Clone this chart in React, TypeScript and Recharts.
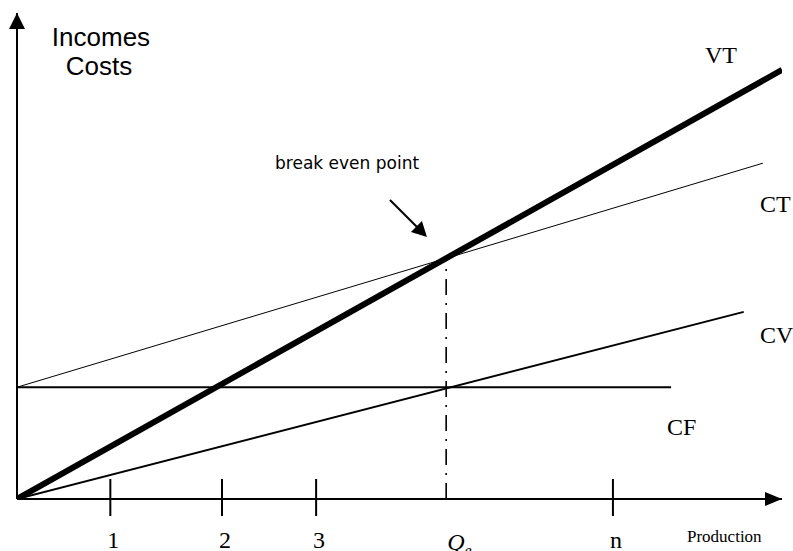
import React from 'react';
import { ComposedChart, Line, XAxis, YAxis, ReferenceDot } from 'recharts';

// Production axis ticks (data units, 0..100 span of the axis)
const xTicks = [12.2, 26.8, 39.1, 56.1, 77.9];
const xTickLabels = ['1', '2', '3', 'Qe', 'n'];

// Series (production q -> value v)
const vtSeries = [
  { q: 0, v: 0 },
  { q: 100, v: 88.3 },
];
const ctSeries = [
  { q: 0, v: 23 },
  { q: 97.5, v: 69.1 },
];
const cvSeries = [
  { q: 0, v: 0 },
  { q: 95, v: 38.5 },
];
const cfSeries = [
  { q: 0, v: 23 },
  { q: 85.5, v: 23 },
];
const breakEvenSeries = [
  { q: 56.1, v: 0 },
  { q: 56.1, v: 49.5 },
];

const SERIF = '"Liberation Serif", "Times New Roman", serif';
const SANS = '"Liberation Sans", Arial, sans-serif';
const VERDANA = '"DejaVu Sans", Verdana, sans-serif';

const textShape = (text: string, fontSize: number, family: string) => (p: any) => (
  <text x={p.cx} y={p.cy} fontSize={fontSize} fontFamily={family} fill="#000">
    {text}
  </text>
);

const XTick = (props: any) => {
  const { x, y, payload } = props;
  const idx = xTicks.indexOf(payload.value);
  const label = xTickLabels[idx];
  if (label === 'Qe') {
    return (
      <g>
        <text x={x + 1} y={y + 51} fontSize={24} fontFamily={SERIF} fontStyle="italic" fill="#000">
          Q
          <tspan fontSize={16} dy={6}>e</tspan>
        </text>
      </g>
    );
  }
  return (
    <g>
      <line x1={x} x2={x} y1={y - 20} y2={y + 17} stroke="#000" strokeWidth={2} />
      <text x={x + 3} y={y + 49} fontSize={24} fontFamily={SERIF} textAnchor="middle" fill="#000">
        {label}
      </text>
    </g>
  );
};

export default function App() {
  return (
    <div style={{ position: 'absolute', left: 0, top: 0, width: 793, height: 551, background: '#fff' }}>
      <ComposedChart width={793} height={551} margin={{ top: 13, right: 11, bottom: 0, left: 0 }}>
        <XAxis
          type="number"
          dataKey="q"
          domain={[0, 100]}
          ticks={xTicks}
          interval={0}
          height={52}
          tickSize={0}
          tickMargin={0}
          tickLine={false}
          tick={<XTick />}
          axisLine={{ stroke: '#000', strokeWidth: 2 }}
          allowDataOverflow
          label={{
            content: (p: any) => {
              const vb = p.viewBox || { x: 17, y: 499, width: 765 };
              return (
                <text x={vb.x + vb.width - 95} y={vb.y + 43} fontSize={17} fontFamily={SERIF} fill="#000">
                  Production
                </text>
              );
            },
          }}
        />
        <YAxis
          type="number"
          dataKey="v"
          domain={[0, 100]}
          width={17}
          tick={false}
          tickLine={false}
          axisLine={{ stroke: '#000', strokeWidth: 2 }}
          allowDataOverflow
        />

        <Line data={cfSeries} dataKey="v" type="linear" stroke="#000" strokeWidth={2} dot={false} activeDot={false} isAnimationActive={false} />
        <Line data={cvSeries} dataKey="v" type="linear" stroke="#000" strokeWidth={2} dot={false} activeDot={false} isAnimationActive={false} />
        <Line data={ctSeries} dataKey="v" type="linear" stroke="#000" strokeWidth={1} dot={false} activeDot={false} isAnimationActive={false} />
        <Line data={breakEvenSeries} dataKey="v" type="linear" stroke="#000" strokeWidth={1.6} strokeDasharray="16 8 2 8" dot={false} activeDot={false} isAnimationActive={false} />
        <Line data={vtSeries} dataKey="v" type="linear" stroke="#000" strokeWidth={6} dot={false} activeDot={false} isAnimationActive={false} />

        {/* axis arrow heads */}
        <ReferenceDot
          x={100}
          y={0}
          r={0}
          ifOverflow="visible"
          shape={(p: any) => (
            <polygon points={`${p.cx},${p.cy} ${p.cx - 17},${p.cy - 7} ${p.cx - 17},${p.cy + 7}`} fill="#000" />
          )}
        />
        <ReferenceDot
          x={0}
          y={100}
          r={0}
          ifOverflow="visible"
          shape={(p: any) => (
            <polygon points={`${p.cx},${p.cy} ${p.cx - 8},${p.cy + 16} ${p.cx + 8},${p.cy + 16}`} fill="#000" />
          )}
        />

        {/* y axis title */}
        <ReferenceDot
          x={10.85}
          y={93.11}
          r={0}
          ifOverflow="visible"
          shape={(p: any) => (
            <text x={p.cx} y={p.cy} fontSize={26} fontFamily={SANS} textAnchor="middle" fill="#000">
              <tspan x={p.cx + 1}>Incomes</tspan>
              <tspan x={p.cx - 1} dy={29}>Costs</tspan>
            </text>
          )}
        />

        {/* series labels */}
        <ReferenceDot x={89.93} y={89.71} r={0} ifOverflow="visible" shape={textShape('VT', 24, SERIF)} />
        <ReferenceDot x={97.12} y={59.05} r={0} ifOverflow="visible" shape={textShape('CT', 24, SERIF)} />
        <ReferenceDot x={97.12} y={32.1} r={0} ifOverflow="visible" shape={textShape('CV', 24, SERIF)} />
        <ReferenceDot x={84.97} y={13.17} r={0} ifOverflow="visible" shape={textShape('CF', 24, SERIF)} />

        {/* break even annotation */}
        <ReferenceDot x={33.73} y={67.9} r={0} ifOverflow="visible" shape={textShape('break even point', 17, VERDANA)} />
        <ReferenceDot
          x={53.59}
          y={53.91}
          r={0}
          ifOverflow="visible"
          shape={(p: any) => (
            <g>
              <line x1={p.cx - 37} y1={p.cy - 37} x2={p.cx - 8} y2={p.cy - 8} stroke="#000" strokeWidth={2} />
              <polygon
                points={`${p.cx},${p.cy} ${p.cx - 16},${p.cy - 5} ${p.cx - 5},${p.cy - 16}`}
                fill="#000"
              />
            </g>
          )}
        />
      </ComposedChart>
    </div>
  );
}
